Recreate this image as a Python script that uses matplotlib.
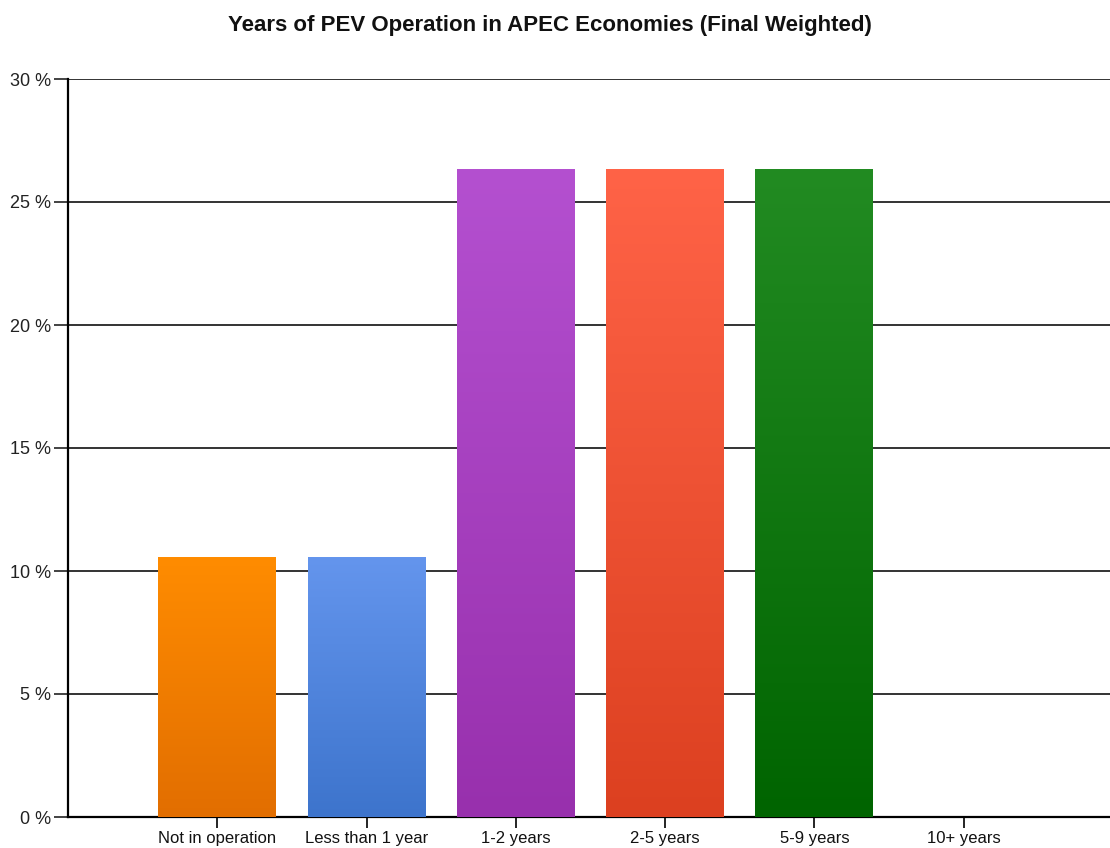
import numpy as np
import matplotlib
matplotlib.use("Agg")
import matplotlib.pyplot as plt
from matplotlib.colors import LinearSegmentedColormap
from matplotlib.ticker import FuncFormatter

plt.rcParams['font.family'] = ['Liberation Sans', 'DejaVu Sans']

# --- data ---
categories = ['Not in operation', 'Less than 1 year', '1-2 years',
              '2-5 years', '5-9 years', '10+ years']
shares = [10.53, 10.53, 26.32, 26.32, 26.32, 0.0]
top_colors = ['#ff8c00', '#6495ed', '#b450d0', '#ff6347', '#228b22', '#cccccc']
bottom_colors = ['#e26e00', '#3d74cc', '#9830ad', '#dc4020', '#006400', '#aaaaaa']

fig = plt.figure(figsize=(11.1, 8.48), dpi=100)
ax = fig.add_axes([68 / 1110, 1 - 817 / 848, 1045 / 1110, (817 - 79) / 848])

x = np.arange(len(categories))
bar_w = 0.79
bars = ax.bar(x, shares, width=bar_w, color='none', zorder=3)

# vertical gradient fill for each bar, lighter at the top
grad = np.linspace(0, 1, 256).reshape(-1, 1)
for rect, c_top, c_bot in zip(bars, top_colors, bottom_colors):
    h = rect.get_height()
    if h <= 0:
        continue
    x0 = rect.get_x()
    cmap = LinearSegmentedColormap.from_list('g', [c_bot, c_top])
    ax.imshow(grad, cmap=cmap, origin='lower', aspect='auto',
              extent=(x0, x0 + rect.get_width(), 0, h), zorder=3)

ax.set_xlim(-1, 6)
ax.set_ylim(0, 30)
ax.set_yticks(np.arange(0, 31, 5))
ax.yaxis.set_major_formatter(FuncFormatter(lambda v, p: f'{v:.0f} %'))
ax.set_xticks(x)
ax.set_xticklabels(categories, fontsize=12, color='#111111')
ax.tick_params(axis='y', labelsize=13, length=10, width=1.2, pad=2, colors='#222222')
ax.tick_params(axis='x', length=8, width=1.2, pad=2)

ax.grid(axis='y', color='#111111', linewidth=1.2, zorder=1)
ax.set_axisbelow(True)
for side in ['top', 'right']:
    ax.spines[side].set_visible(False)
ax.spines['left'].set_linewidth(1.6)
ax.spines['bottom'].set_linewidth(1.6)

fig.text(0.495, 1 - 25 / 848, 'Years of PEV Operation in APEC Economies (Final Weighted)',
         ha='center', va='center', fontsize=16, fontweight='bold', color='#111111')

fig.savefig('out.png', dpi=100)
